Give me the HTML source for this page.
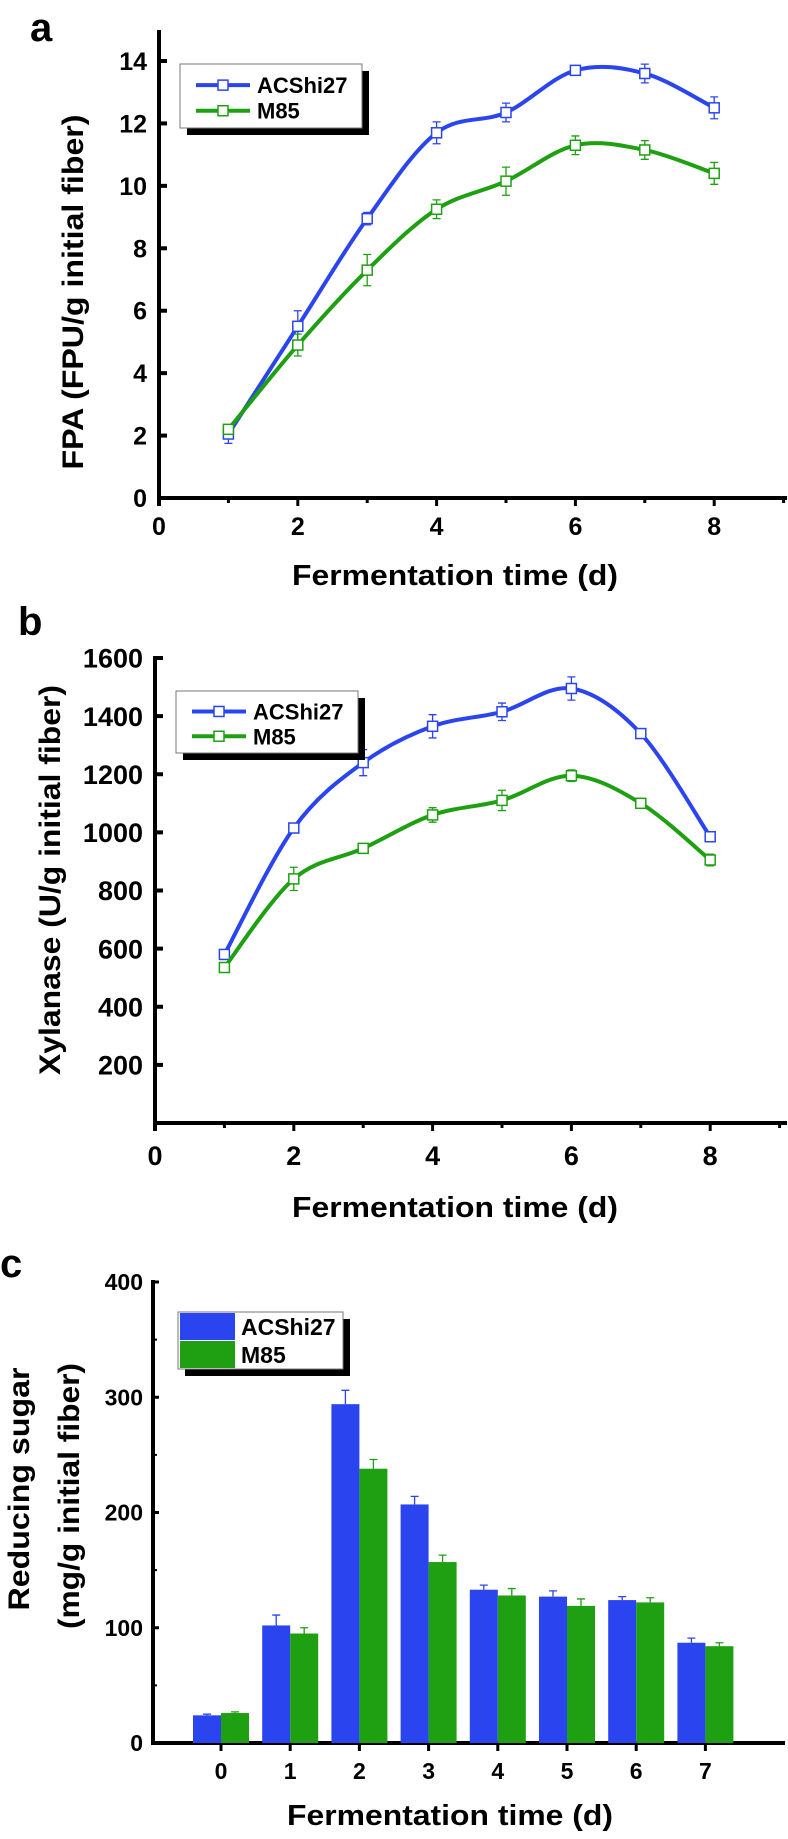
<!DOCTYPE html>
<html><head><meta charset="utf-8">
<style>
body{margin:0;background:#fff;}
svg{display:block;font-family:"Liberation Sans",Arial,sans-serif;font-weight:bold;}
</style></head>
<body>
<svg id="fig" width="788" height="1839" viewBox="0 0 788 1839">
  <text x="30" y="41" font-size="40">a</text>
  <text x="18" y="635" font-size="40">b</text>
  <text x="0" y="1277" font-size="40">c</text>
  <g id="pa"></g>
  <g id="pb"></g>
  <g id="pc"></g>
</svg>
<script>
const days = [1,2,3,4,5,6,7,8];
const fpaA = [2.05,5.5,8.95,11.7,12.35,13.7,13.6,12.5];
const fpaAErr = [0.3,0.5,0.2,0.35,0.3,0.1,0.3,0.35];
const fpaM = [2.2,4.9,7.3,9.25,10.15,11.3,11.15,10.4];
const fpaMErr = [0.15,0.35,0.5,0.3,0.45,0.3,0.3,0.35];
const xylA = [580,1015,1240,1365,1415,1495,1340,985];
const xylAErr = [15,15,45,40,30,40,15,15];
const xylM = [535,840,945,1060,1110,1195,1100,905];
const xylMErr = [10,40,10,25,35,20,10,20];
const sugarCats = ["0","1","2","3","4","5","6","7"];
const sugarA = [24,102,294,207,133,127,124,87];
const sugarAErr = [1,9,12,7,4,5,3,4];
const sugarM = [26,95,238,157,128,119,122,84];
const sugarMErr = [1,5,8,6,6,6,4,3];
const xTicksLine = [0,2,4,6,8];
const yTicksA = [0,2,4,6,8,10,12,14];
const yTicksB = [200,400,600,800,1000,1200,1400,1600];
const yTicksC = [0,100,200,300,400];

const NS="http://www.w3.org/2000/svg";
function mk(parent,tag,attrs,text){const e=document.createElementNS(NS,tag);for(const k in attrs)e.setAttribute(k,attrs[k]);if(text!==undefined)e.textContent=text;parent.appendChild(e);return e;}
const BLUE="#2a45f0",GREEN="#1fa012";

function spline(pts){let d=`M${pts[0][0]},${pts[0][1]}`;for(let i=0;i<pts.length-1;i++){const p0=pts[i-1]||pts[i],p1=pts[i],p2=pts[i+1],p3=pts[i+2]||p2;const c1=[p1[0]+(p2[0]-p0[0])/6,p1[1]+(p2[1]-p0[1])/6],c2=[p2[0]-(p3[0]-p1[0])/6,p2[1]-(p3[1]-p1[1])/6];d+=` C${c1[0]},${c1[1]} ${c2[0]},${c2[1]} ${p2[0]},${p2[1]}`;}return d;}

function linePanel(g,cfg){
  const X=v=>cfg.x0+v*69.4;
  const Y=v=>cfg.yb-(v-cfg.ymin)*(cfg.yb-cfg.yt)/(cfg.ymax-cfg.ymin);
  let a=mk(g,'line',{x1:cfg.x0,y1:cfg.ytop,x2:cfg.x0,y2:cfg.yb+8,stroke:'#000','stroke-width':4});
  
  a=mk(g,'line',{x1:cfg.x0-2,y1:cfg.yb,x2:787,y2:cfg.yb,stroke:'#000','stroke-width':4});
  
  for(let d=1;d<=9;d++){const t=mk(g,'line',{x1:X(d),y1:cfg.yb,x2:X(d),y2:cfg.yb+(d%2?5:8),stroke:'#000','stroke-width':3});}
  xTicksLine.forEach(v=>{const t=mk(g,'text',{x:X(v),y:cfg.yb+cfg.lab,'font-size':cfg.fs,'text-anchor':'middle'},v);});
  cfg.yticks.forEach(v=>{const t=mk(g,'text',{x:cfg.x0-12,y:Y(v)+cfg.fs*0.36,'font-size':cfg.fs,'text-anchor':'end'},v);
    const k=mk(g,'line',{x1:cfg.x0,y1:Y(v),x2:cfg.x0+8,y2:Y(v),stroke:'#000','stroke-width':4});});
  let t=mk(g,'text',{x:455,y:cfg.yb+cfg.tit,'font-size':29,'text-anchor':'middle',textLength:326,lengthAdjust:'spacingAndGlyphs'},'Fermentation time (d)');
  
  t=mk(g,'text',{x:0,y:0,'font-size':30,'text-anchor':'middle',textLength:cfg.ylen,lengthAdjust:'spacingAndGlyphs',transform:`translate(${cfg.ylx},${cfg.yly}) rotate(-90)`},cfg.ylabel);
  
  [[cfg.a,cfg.ae,BLUE,'acshi27'],[cfg.m,cfg.me,GREEN,'m85']].forEach(([vals,errs,col,nm])=>{
    const p=mk(g,'path',{d:spline(vals.map((v,i)=>[X(days[i]),Y(v)])),fill:'none',stroke:col,'stroke-width':4});
    
    vals.forEach((v,i)=>{const x=X(days[i]);const e=errs[i];
      const eb=mk(g,'path',{d:`M${x},${Y(v+e)}V${Y(v-e)}M${x-4},${Y(v+e)}h8M${x-4},${Y(v-e)}h8`,stroke:col,'stroke-width':1.3,fill:'none'});
      
      const r=mk(g,'rect',{x:x-5,y:Y(v)-5,width:10,height:10,fill:'#fff',stroke:col,'stroke-width':1.5});
      });
  });
  const L=cfg.leg;
  let s=mk(g,'rect',{x:L.x+7,y:L.y+7,width:L.w,height:L.h,fill:'#000'});
  s=mk(g,'rect',{x:L.x,y:L.y,width:L.w,height:L.h,fill:'#fff',stroke:'#777','stroke-width':1});
  [['ACShi27',BLUE,L.y+L.h*0.33],['M85',GREEN,L.y+L.h*0.73]].forEach(([lab,col,yy])=>{
    const ln=mk(g,'line',{x1:L.x+16,y1:yy,x2:L.x+70,y2:yy,stroke:col,'stroke-width':4});
    const r=mk(g,'rect',{x:L.x+38,y:yy-5,width:10,height:10,fill:'#fff',stroke:col,'stroke-width':1.5});
    const tx=mk(g,'text',{x:L.x+77,y:yy+8,'font-size':22},lab);});
}

linePanel(document.getElementById('pa'),{x0:159,yb:498,yt:61,ymin:0,ymax:14,ytop:30,yticks:yTicksA,fs:25,lab:37,tit:87,
  ylabel:'FPA (FPU/g initial fiber)',ylx:83,yly:292,ylen:355,a:fpaA,ae:fpaAErr,m:fpaM,me:fpaMErr,leg:{x:180,y:64,w:182,h:64}});
linePanel(document.getElementById('pb'),{x0:155,yb:1123,yt:658,ymin:0,ymax:1600,ytop:656,yticks:yTicksB,fs:27,lab:42,tit:94,
  ylabel:'Xylanase (U/g initial fiber)',ylx:60,yly:880,ylen:390,a:xylA,ae:xylAErr,m:xylM,me:xylMErr,leg:{x:176,y:691,w:182,h:62}});

(function(){
  const g=document.getElementById('pc');
  const x0=153,yb=1743,yt=1282;
  const Y=v=>yb-v*(yb-yt)/400;
  const C=i=>221+i*69.2;
  const bw=28;
  let a=mk(g,'line',{x1:x0,y1:yt-2,x2:x0,y2:yb+2,stroke:'#000','stroke-width':4});
  a=mk(g,'line',{x1:x0-2,y1:yb,x2:785,y2:yb,stroke:'#000','stroke-width':4});
  yTicksC.forEach(v=>{const t=mk(g,'text',{x:x0-10,y:Y(v)+8,'font-size':23,'text-anchor':'end'},v);
    const k=mk(g,'line',{x1:x0,y1:Y(v),x2:x0+6,y2:Y(v),stroke:'#000','stroke-width':3});
    if(v<400){const k2=mk(g,'line',{x1:x0,y1:Y(v+50),x2:x0+4,y2:Y(v+50),stroke:'#000','stroke-width':2});}});
  sugarCats.forEach((c,i)=>{const t=mk(g,'text',{x:C(i),y:yb+36,'font-size':23,'text-anchor':'middle'},c);
    const k=mk(g,'line',{x1:C(i),y1:yb,x2:C(i),y2:yb+8,stroke:'#000','stroke-width':3});});
  [[sugarA,sugarAErr,BLUE,-1,'acshi27'],[sugarM,sugarMErr,GREEN,0,'m85']].forEach(([vals,errs,col,off,nm])=>{
    vals.forEach((v,i)=>{const x=C(i)+off*bw;
      const r=mk(g,'rect',{x:x,y:Y(v),width:bw,height:yb-Y(v),fill:col});
      const cx=x+bw/2;const e=mk(g,'path',{d:`M${cx},${Y(v)}V${Y(v+errs[i])}M${cx-4},${Y(v+errs[i])}h8`,stroke:col,'stroke-width':1.3,fill:'none'});
      });
  });
  let t=mk(g,'text',{x:450,y:1825,'font-size':29,'text-anchor':'middle',textLength:326,lengthAdjust:'spacingAndGlyphs'},'Fermentation time (d)');
  t=mk(g,'text',{x:0,y:0,'font-size':30,'text-anchor':'middle',textLength:243,lengthAdjust:'spacingAndGlyphs',transform:'translate(29,1489) rotate(-90)'},'Reducing sugar');
  t=mk(g,'text',{x:0,y:0,'font-size':30,'text-anchor':'middle',textLength:266,lengthAdjust:'spacingAndGlyphs',transform:'translate(79,1496) rotate(-90)'},'(mg/g initial fiber)');
  let s=mk(g,'rect',{x:185,y:1319,width:165,height:57,fill:'#000'});
  s=mk(g,'rect',{x:178,y:1312,width:165,height:57,fill:'#fff',stroke:'#777','stroke-width':1});
  [['ACShi27',BLUE,1313],['M85',GREEN,1341]].forEach(([lab,col,yy])=>{
    const r=mk(g,'rect',{x:180,y:yy,width:55,height:27,fill:col});
    const tx=mk(g,'text',{x:241,y:yy+22,'font-size':23},lab);});
})();
</script>
</body></html>
